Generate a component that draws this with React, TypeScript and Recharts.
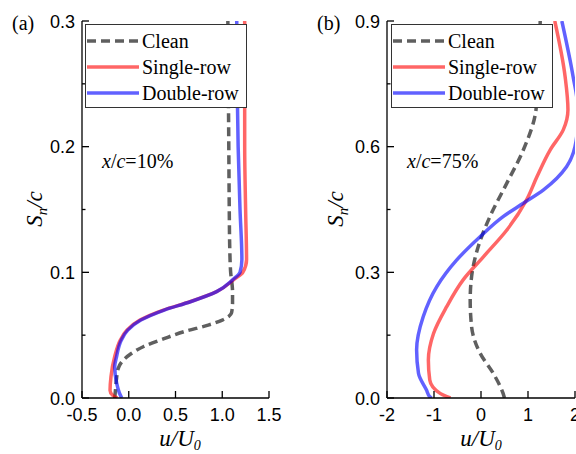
import React from 'react';
import { LineChart, Line, XAxis, YAxis, Legend } from 'recharts';

// panel (a), x/c = 10%
const aCleanS = [0, 0.008, 0.016, 0.024, 0.03, 0.035, 0.041, 0.047, 0.053, 0.058, 0.062, 0.065, 0.068, 0.075, 0.085, 0.1, 0.12, 0.15, 0.2, 0.25, 0.3];
const aCleanU = [-0.15, -0.14, -0.13, -0.11, -0.06, 0.02, 0.16, 0.37, 0.6, 0.85, 1.0, 1.07, 1.1, 1.11, 1.11, 1.09, 1.08, 1.075, 1.07, 1.065, 1.06];
const aSingleS = [0, 0.002, 0.006, 0.017, 0.033, 0.046, 0.054, 0.062, 0.07, 0.0766, 0.0846, 0.094, 0.1, 0.11, 0.15, 0.2, 0.25, 0.3];
const aSingleU = [-0.12, -0.17, -0.2, -0.19, -0.15, -0.09, -0.02, 0.12, 0.37, 0.655, 0.94, 1.12, 1.22, 1.26, 1.25, 1.24, 1.24, 1.24];
const aDoubleS = [0, 0.004, 0.012, 0.025, 0.033, 0.046, 0.054, 0.062, 0.07, 0.0766, 0.0846, 0.094, 0.1, 0.11, 0.15, 0.2, 0.25, 0.3];
const aDoubleU = [-0.075, -0.1, -0.13, -0.15, -0.13, -0.08, -0.01, 0.13, 0.38, 0.66, 0.94, 1.11, 1.19, 1.21, 1.19, 1.17, 1.16, 1.155];

// panel (b), x/c = 75%
const bCleanS = [0, 0.011, 0.059, 0.107, 0.17, 0.234, 0.29, 0.361, 0.433, 0.513, 0.592, 0.688, 0.8, 0.9];
const bCleanU = [0.5, 0.47, 0.26, -0.02, -0.2, -0.23, -0.2, -0.06, 0.19, 0.55, 0.9, 1.17, 1.23, 1.26];
const bSingleS = [0, 0.011, 0.043, 0.091, 0.154, 0.218, 0.282, 0.337, 0.401, 0.473, 0.528, 0.592, 0.64, 0.688, 0.767, 0.9];
const bSingleU = [-0.65, -0.87, -1.09, -1.12, -1.01, -0.73, -0.38, 0.05, 0.55, 0.97, 1.19, 1.47, 1.75, 1.85, 1.79, 1.57];
const bDoubleS = [0, 0.003, 0.019, 0.059, 0.115, 0.194, 0.266, 0.329, 0.385, 0.433, 0.465, 0.497, 0.552, 0.6, 0.65, 0.7, 0.767, 0.9];
const bDoubleU = [-1.05, -1.09, -1.16, -1.33, -1.37, -1.23, -0.94, -0.52, -0.02, 0.47, 0.9, 1.33, 1.82, 2.0, 2.05, 2.05, 1.96, 1.72];

// ticks
const aXMajor = [-0.5, 0, 0.5, 1, 1.5];
const aXLabels = ['-0.5', '0.0', '0.5', '1.0', '1.5'];
const aXAll = [-0.5, -0.25, 0, 0.25, 0.5, 0.75, 1, 1.25, 1.5];
const aYMajor = [0, 0.1, 0.2, 0.3];
const aYLabels = ['0.0', '0.1', '0.2', '0.3'];
const aYAll = [0, 0.05, 0.1, 0.15, 0.2, 0.25, 0.3];
const bXMajor = [-2, -1, 0, 1, 2];
const bXLabels = ['-2', '-1', '0', '1', '2'];
const bXAll = [-2, -1.5, -1, -0.5, 0, 0.5, 1, 1.5, 2];
const bYMajor = [0, 0.3, 0.6, 0.9];
const bYLabels = ['0.0', '0.3', '0.6', '0.9'];
const bYAll = [0, 0.15, 0.3, 0.45, 0.6, 0.75, 0.9];

const seriesNames = ['Clean', 'Single-row', 'Double-row'];

const zip = (u: number[], s: number[]) => s.map((v, i) => ({ s: v, u: u[i] }));

const styles = [
  { stroke: '#5f5f5f', strokeWidth: 3.5, strokeDasharray: '9 5', strokeOpacity: 1 },
  { stroke: '#ff0000', strokeWidth: 3.5, strokeDasharray: undefined, strokeOpacity: 0.6 },
  { stroke: '#0000ff', strokeWidth: 3.5, strokeDasharray: undefined, strokeOpacity: 0.62 },
];

const TM = 8;
const sans = '"Liberation Sans", Arial, sans-serif';
const serif = '"Liberation Serif", "Times New Roman", serif';

type Side = 'left' | 'right' | 'top' | 'bottom';

function tickRenderer(side: Side, majors: number[], labels?: string[]) {
  return (props: any) => {
    const { x, y, payload } = props;
    const v = payload.value;
    const mi = majors.findIndex((m) => Math.abs(m - v) < 1e-9);
    const len = mi >= 0 ? 7 : 3.5;
    const st = { stroke: '#000', strokeWidth: 1.3 };
    const txt = { fontFamily: sans, fontSize: 18, fill: '#000' };
    if (side === 'left') {
      const ax = x + TM;
      return (
        <g>
          <line x1={ax} x2={ax + len} y1={y} y2={y} {...st} />
          {labels && mi >= 0 && (
            <text x={ax - 7} y={y + 6.5} textAnchor="end" {...txt}>{labels[mi]}</text>
          )}
        </g>
      );
    }
    if (side === 'right') {
      const ax = x - TM;
      return <line x1={ax} x2={ax - len} y1={y} y2={y} {...st} />;
    }
    if (side === 'top') {
      const ay = y + TM;
      return <line x1={x} x2={x} y1={ay} y2={ay + len} {...st} />;
    }
    const ay = y - TM;
    return (
      <g>
        <line x1={x} x2={x} y1={ay} y2={ay - len} {...st} />
        {labels && mi >= 0 && (
          <text x={x} y={ay + 23} textAnchor="middle" {...txt}>{labels[mi]}</text>
        )}
      </g>
    );
  };
}

function LegendBox() {
  return (
    <div
      style={{
        width: 162,
        height: 84,
        boxSizing: 'border-box',
        border: '1.3px solid #333',
        background: '#fff',
        fontFamily: serif,
        fontSize: 20,
        color: '#000',
        paddingTop: 3,
      }}
    >
      {seriesNames.map((name, i) => (
        <div key={name} style={{ height: 26, display: 'flex', alignItems: 'center' }}>
          <svg width={55} height={10} style={{ flex: 'none' }}>
            <line x1={1} x2={53} y1={5} y2={5} {...styles[i]} />
          </svg>
          <span style={{ marginLeft: 1, lineHeight: '26px' }}>{name}</span>
        </div>
      ))}
    </div>
  );
}

interface PanelProps {
  width: number;
  leftW: number;
  rightM: number;
  xDomain: [number, number];
  yDomain: [number, number];
  xMajor: number[];
  xLabels: string[];
  xAll: number[];
  yMajor: number[];
  yLabels: string[];
  yAll: number[];
  data: { s: number; u: number }[][];
  tag: string;
  note: string;
  tagX: number;
  noteX: number;
  yTitleX: number;
  xTitleX: number;
  legendLeft: number;
}

function Panel(p: PanelProps) {
  return (
    <LineChart
      layout="vertical"
      width={p.width}
      height={454}
      margin={{ top: 21, right: p.rightM, left: 0, bottom: 0 }}
    >
      <XAxis
        type="number"
        domain={p.xDomain}
        allowDataOverflow
        ticks={p.xMajor}
        interval={0}
        height={56}
        tickSize={0}
        tickMargin={TM}
        tickLine={false}
        axisLine={{ stroke: '#000', strokeWidth: 1.3 }}
        tick={tickRenderer('bottom', p.xMajor, p.xLabels)}
      />
      <XAxis
        xAxisId="top"
        orientation="top"
        type="number"
        domain={p.xDomain}
        allowDataOverflow
        ticks={p.xAll}
        interval={0}
        height={0}
        tickSize={0}
        tickMargin={TM}
        tickLine={false}
        axisLine={{ stroke: '#000', strokeWidth: 1.3 }}
        tick={tickRenderer('top', p.xMajor)}
      />
      <YAxis
        type="number"
        dataKey="s"
        domain={p.yDomain}
        reversed
        allowDataOverflow
        ticks={p.yAll}
        interval={0}
        width={p.leftW}
        tickSize={0}
        tickMargin={TM}
        tickLine={false}
        axisLine={{ stroke: '#000', strokeWidth: 1.3 }}
        tick={tickRenderer('left', p.yMajor, p.yLabels)}
      />
      <YAxis
        yAxisId="right"
        orientation="right"
        type="number"
        domain={p.yDomain}
        reversed
        allowDataOverflow
        ticks={p.yAll}
        interval={0}
        width={0}
        tickSize={0}
        tickMargin={TM}
        tickLine={false}
        axisLine={{ stroke: '#000', strokeWidth: 1.3 }}
        tick={tickRenderer('right', p.yMajor)}
      />
      {p.data.map((d, i) => (
        <Line
          key={seriesNames[i]}
          name={seriesNames[i]}
          data={d}
          dataKey="u"
          type="monotone"
          dot={false}
          activeDot={false}
          fill="none"
          isAnimationActive={false}
          {...styles[i]}
        />
      ))}
      <Legend
        layout="horizontal"
        verticalAlign="middle"
        align="center"
        content={() => <LegendBox />}
        wrapperStyle={{ left: p.legendLeft, top: 24, width: 162, height: 84, right: 'auto', bottom: 'auto' }}
      />
      <text x={p.tagX} y={30} fontFamily={serif} fontSize={20} fill="#000">{p.tag}</text>
      <text x={p.noteX} y={168} fontFamily={serif} fontSize={20} fill="#000">
        <tspan fontStyle="italic">x</tspan>/<tspan fontStyle="italic">c</tspan>={p.note}
      </text>
      <text
        x={p.yTitleX}
        y={209}
        transform={`rotate(-90, ${p.yTitleX}, 209)`}
        textAnchor="middle"
        fontFamily={serif}
        fontStyle="italic"
        fontSize={23}
        fill="#000"
      >
        S<tspan dy={5} fontSize={15}>n</tspan><tspan dy={-5}>/c</tspan>
      </text>
      <text x={p.xTitleX} y={446} textAnchor="middle" fontFamily={serif} fontStyle="italic" fontSize={23} fill="#000">
        u/U<tspan dy={4} fontSize={14}>0</tspan>
      </text>
    </LineChart>
  );
}

export default function App() {
  return (
    <div style={{ position: 'absolute', left: 0, top: 0, width: 576, height: 454, background: '#fff', overflow: 'hidden' }}>
      <div style={{ position: 'absolute', left: 0, top: 0 }}>
        <Panel
          width={290}
          leftW={82}
          rightM={21}
          xDomain={[-0.5, 1.5]}
          yDomain={[0, 0.3]}
          xMajor={aXMajor}
          xLabels={aXLabels}
          xAll={aXAll}
          yMajor={aYMajor}
          yLabels={aYLabels}
          yAll={aYAll}
          data={[zip(aCleanU, aCleanS), zip(aSingleU, aSingleS), zip(aDoubleU, aDoubleS)]}
          tag="(a)"
          note="10%"
          tagX={12}
          noteX={102}
          yTitleX={42}
          xTitleX={180}
          legendLeft={85}
        />
      </div>
      <div style={{ position: 'absolute', left: 290, top: 0 }}>
        <Panel
          width={286}
          leftW={97}
          rightM={1}
          xDomain={[-2, 2]}
          yDomain={[0, 0.9]}
          xMajor={bXMajor}
          xLabels={bXLabels}
          xAll={bXAll}
          yMajor={bYMajor}
          yLabels={bYLabels}
          yAll={bYAll}
          data={[zip(bCleanU, bCleanS), zip(bSingleU, bSingleS), zip(bDoubleU, bDoubleS)]}
          tag="(b)"
          note="75%"
          tagX={27}
          noteX={117}
          yTitleX={53}
          xTitleX={191}
          legendLeft={101}
        />
      </div>
    </div>
  );
}
